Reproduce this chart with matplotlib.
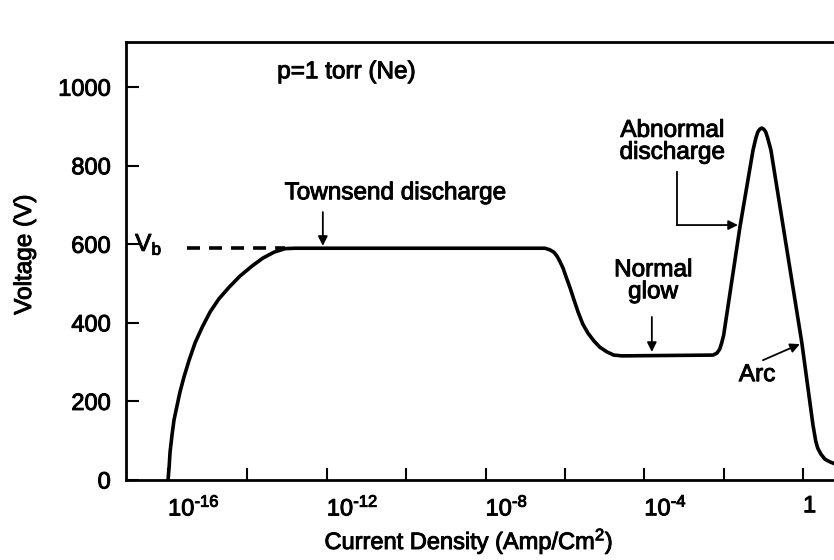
import matplotlib
matplotlib.use("Agg")
import matplotlib.pyplot as plt
import matplotlib.patheffects as pe
import numpy as np

plt.rcParams["font.family"] = ["Liberation Sans", "DejaVu Sans"]
plt.rcParams["mathtext.fontset"] = "custom"
plt.rcParams["mathtext.rm"] = "Liberation Sans"
plt.rcParams["mathtext.it"] = "Liberation Sans:italic"
plt.rcParams["mathtext.bf"] = "Liberation Sans:bold"

# V-I characteristic of a DC discharge in neon at 1 torr
# log10 of current density (A/cm^2) and voltage (V)
log_j = [-16.00, -15.97, -15.95, -15.90, -15.85, -15.77, -15.70, -15.60,
         -15.47, -15.32, -15.14, -14.94, -14.72, -14.46, -14.19, -13.88,
         -13.61, -13.33, -13.05, -12.80,
         -6.50, -6.38, -6.28, -6.20, -6.13, -6.05, -5.97, -5.87,
         -5.77, -5.67, -5.55, -5.42, -5.27, -5.12, -4.94, -4.77, -4.56,
         -2.27, -2.17, -2.10, -2.05, -2.00, -1.59, -1.26, -1.19, -1.14,
         -1.09, -1.04, -0.99, -0.94, -0.89, -0.81, -0.03, 0.25,
         0.32, 0.37, 0.45, 0.55, 0.68, 0.88]
volts = [0, 38, 71, 115, 153, 191, 224, 262,
         305, 349, 389, 428, 461, 491, 519, 545,
         565, 580, 589, 590,
         590, 586, 580, 570, 557, 540, 517, 489,
         458, 428, 397, 374, 354, 338, 326, 318, 316,
         318, 323, 333, 349, 369, 644, 840, 870, 886,
         893, 896, 893, 886, 870, 840, 349, 140,
         99, 81, 66, 53, 46, 38]

# breakdown voltage level
v_b = 590
vb_dash_from = -15.52
vb_dash_to = -13.05

x_ticks = [-16, -14, -12, -10, -8, -6, -4, -2, 0]
x_tick_labels = ["$10^{\\text{-}16}$", "", "$10^{\\text{-}12}$", "",
                 "$10^{\\text{-}8}$", "", "$10^{\\text{-}4}$", "", "1"]
y_ticks = [0, 200, 400, 600, 800, 1000]

j = 10.0 ** np.array(log_j)

heavy = [pe.withStroke(linewidth=0.7, foreground="black")]

fig = plt.figure(figsize=(8.34, 5.6), dpi=100)
ax = fig.add_axes([126 / 834, 80 / 560, 708 / 834, 438 / 560])

ax.plot(j, volts, color="black", lw=2.6, solid_capstyle="round",
        solid_joinstyle="round")
ax.plot([10.0 ** vb_dash_from, 10.0 ** vb_dash_to], [v_b, v_b],
        color="black", lw=2.6, dashes=(3.6, 2.5))

ax.set_xscale("log")
ax.set_xlim(10.0 ** -17.06, 10.0 ** 0.78)
ax.set_ylim(0, 1115)

ax.xaxis.set_minor_locator(matplotlib.ticker.NullLocator())
ax.set_xticks([10.0 ** t for t in x_ticks])
ax.set_xticklabels(x_tick_labels, ha="left")
ax.set_yticks(y_ticks)
ax.tick_params(direction="in", length=9, width=1.5, labelsize=17)
ax.tick_params(axis="x", pad=11)
ax.tick_params(axis="y", pad=11)
for lbl in ax.get_xticklabels() + ax.get_yticklabels():
    lbl.set_path_effects(heavy)

for side in ["left", "bottom", "top"]:
    ax.spines[side].set_linewidth(2.0)
ax.spines["right"].set_visible(False)

fig.text(25 / 834, 1 - 255 / 560, "Voltage (V)", rotation=90,
         ha="center", va="center", fontsize=17.5, path_effects=heavy)
fig.text(469 / 834, 1 - 541 / 560, "Current Density (Amp/Cm$^2$)",
         ha="center", va="center", fontsize=17, path_effects=heavy)

arrow = dict(arrowstyle="-|>", color="black", lw=1.3, mutation_scale=14,
             shrinkA=0, shrinkB=0)
fs = 17.5

ax.text(10.0 ** -13.25, 1038, "p=1 torr (Ne)", ha="left", va="center",
        fontsize=fs, path_effects=heavy)
ax.text(10.0 ** -16.83, 600, "V$_\\mathregular{b}$", ha="left", va="center",
        fontsize=fs, path_effects=heavy)

# Townsend region
ax.text(10.0 ** -10.28, 730, "Townsend discharge", ha="center", va="center",
        fontsize=fs, path_effects=heavy)
ax.annotate("", xy=(10.0 ** -12.10, 596), xytext=(10.0 ** -12.10, 682),
            arrowprops=arrow)

# normal glow
ax.text(10.0 ** -3.78, 506, "Normal\nglow", ha="center", va="center",
        fontsize=fs, linespacing=1.0, path_effects=heavy)
ax.annotate("", xy=(10.0 ** -3.81, 326), xytext=(10.0 ** -3.81, 415),
            arrowprops=arrow)

# abnormal glow
ax.text(10.0 ** -3.30, 861, "Abnormal\ndischarge", ha="center", va="center",
        fontsize=fs, linespacing=1.0, path_effects=heavy)
ax.plot([10.0 ** -3.18, 10.0 ** -3.18], [784, 649], color="black", lw=1.3)
ax.annotate("", xy=(10.0 ** -1.64, 649), xytext=(10.0 ** -3.18, 649),
            arrowprops=arrow)

# arc
ax.text(10.0 ** -1.16, 267, "Arc", ha="center", va="center", fontsize=fs,
        path_effects=heavy)
ax.annotate("", xy=(10.0 ** -0.08, 346), xytext=(10.0 ** -1.01, 305),
            arrowprops=arrow)

fig.savefig("out.png", dpi=100)
